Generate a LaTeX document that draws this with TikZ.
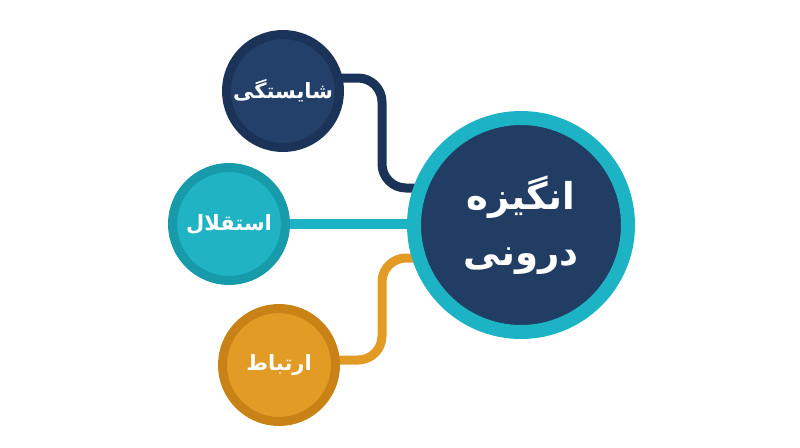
\documentclass[tikz,border=0pt]{standalone}
\usepackage{fontspec}
\TeXXeTstate=1
\newfontfamily\arabicfont[Script=Arabic]{DejaVu Sans}
\usetikzlibrary{backgrounds}
\definecolor{navyin}{HTML}{22406A}
\definecolor{navyring}{HTML}{1B3358}
\definecolor{tealin}{HTML}{1FB3C3}
\definecolor{tealring}{HTML}{179BAA}
\definecolor{orin}{HTML}{E29B25}
\definecolor{orring}{HTML}{C98215}
\definecolor{cring}{HTML}{1CB3C5}
\definecolor{cin}{HTML}{213D63}
\tikzset{
  smallc/.style={circle, minimum size=113pt, inner sep=0pt, line width=9pt, text=white,
    font=\arabicfont\bfseries\fontsize{21}{26}\selectfont},
  bigc/.style={circle, minimum size=214pt, inner sep=0pt, line width=14pt, text=white, fill=cin, draw=cring,
    align=center, font=\arabicfont\bfseries\fontsize{37}{56}\selectfont},
  link/.style={line width=9pt, rounded corners=24pt}
}
\begin{document}
\begin{tikzpicture}[x=1pt,y=-1pt]
\useasboundingbox (0,0) rectangle (800,447);
\node[bigc] (core) at (521,225) {\beginR انگیزه\endR\\\beginR درونی\endR};
\node[smallc, fill=navyin, draw=navyring] (top) at (283,91) {\beginR شایستگی\endR};
\node[smallc, fill=tealin, draw=tealring] (mid) at (229,224) {\beginR استقلال\endR};
\node[smallc, fill=orin, draw=orring] (bot) at (279,365) {\beginR ارتباط\endR};
\begin{scope}[on background layer]
\fill[white] (0,0) rectangle (800,447);
\draw[link, draw=navyring] ([yshift=13pt]top.center) -- (382,78) -- (382,188) -- ([yshift=37pt]core.center);
\draw[link, draw=cring, line width=10pt] (mid.center) -- (core.center |- mid.center);
\draw[link, draw=orin] ([yshift=5pt]bot.center) -- (382,360) -- (382,258) -- ([yshift=-33pt]core.center);
\end{scope}
\end{tikzpicture}
\end{document}
